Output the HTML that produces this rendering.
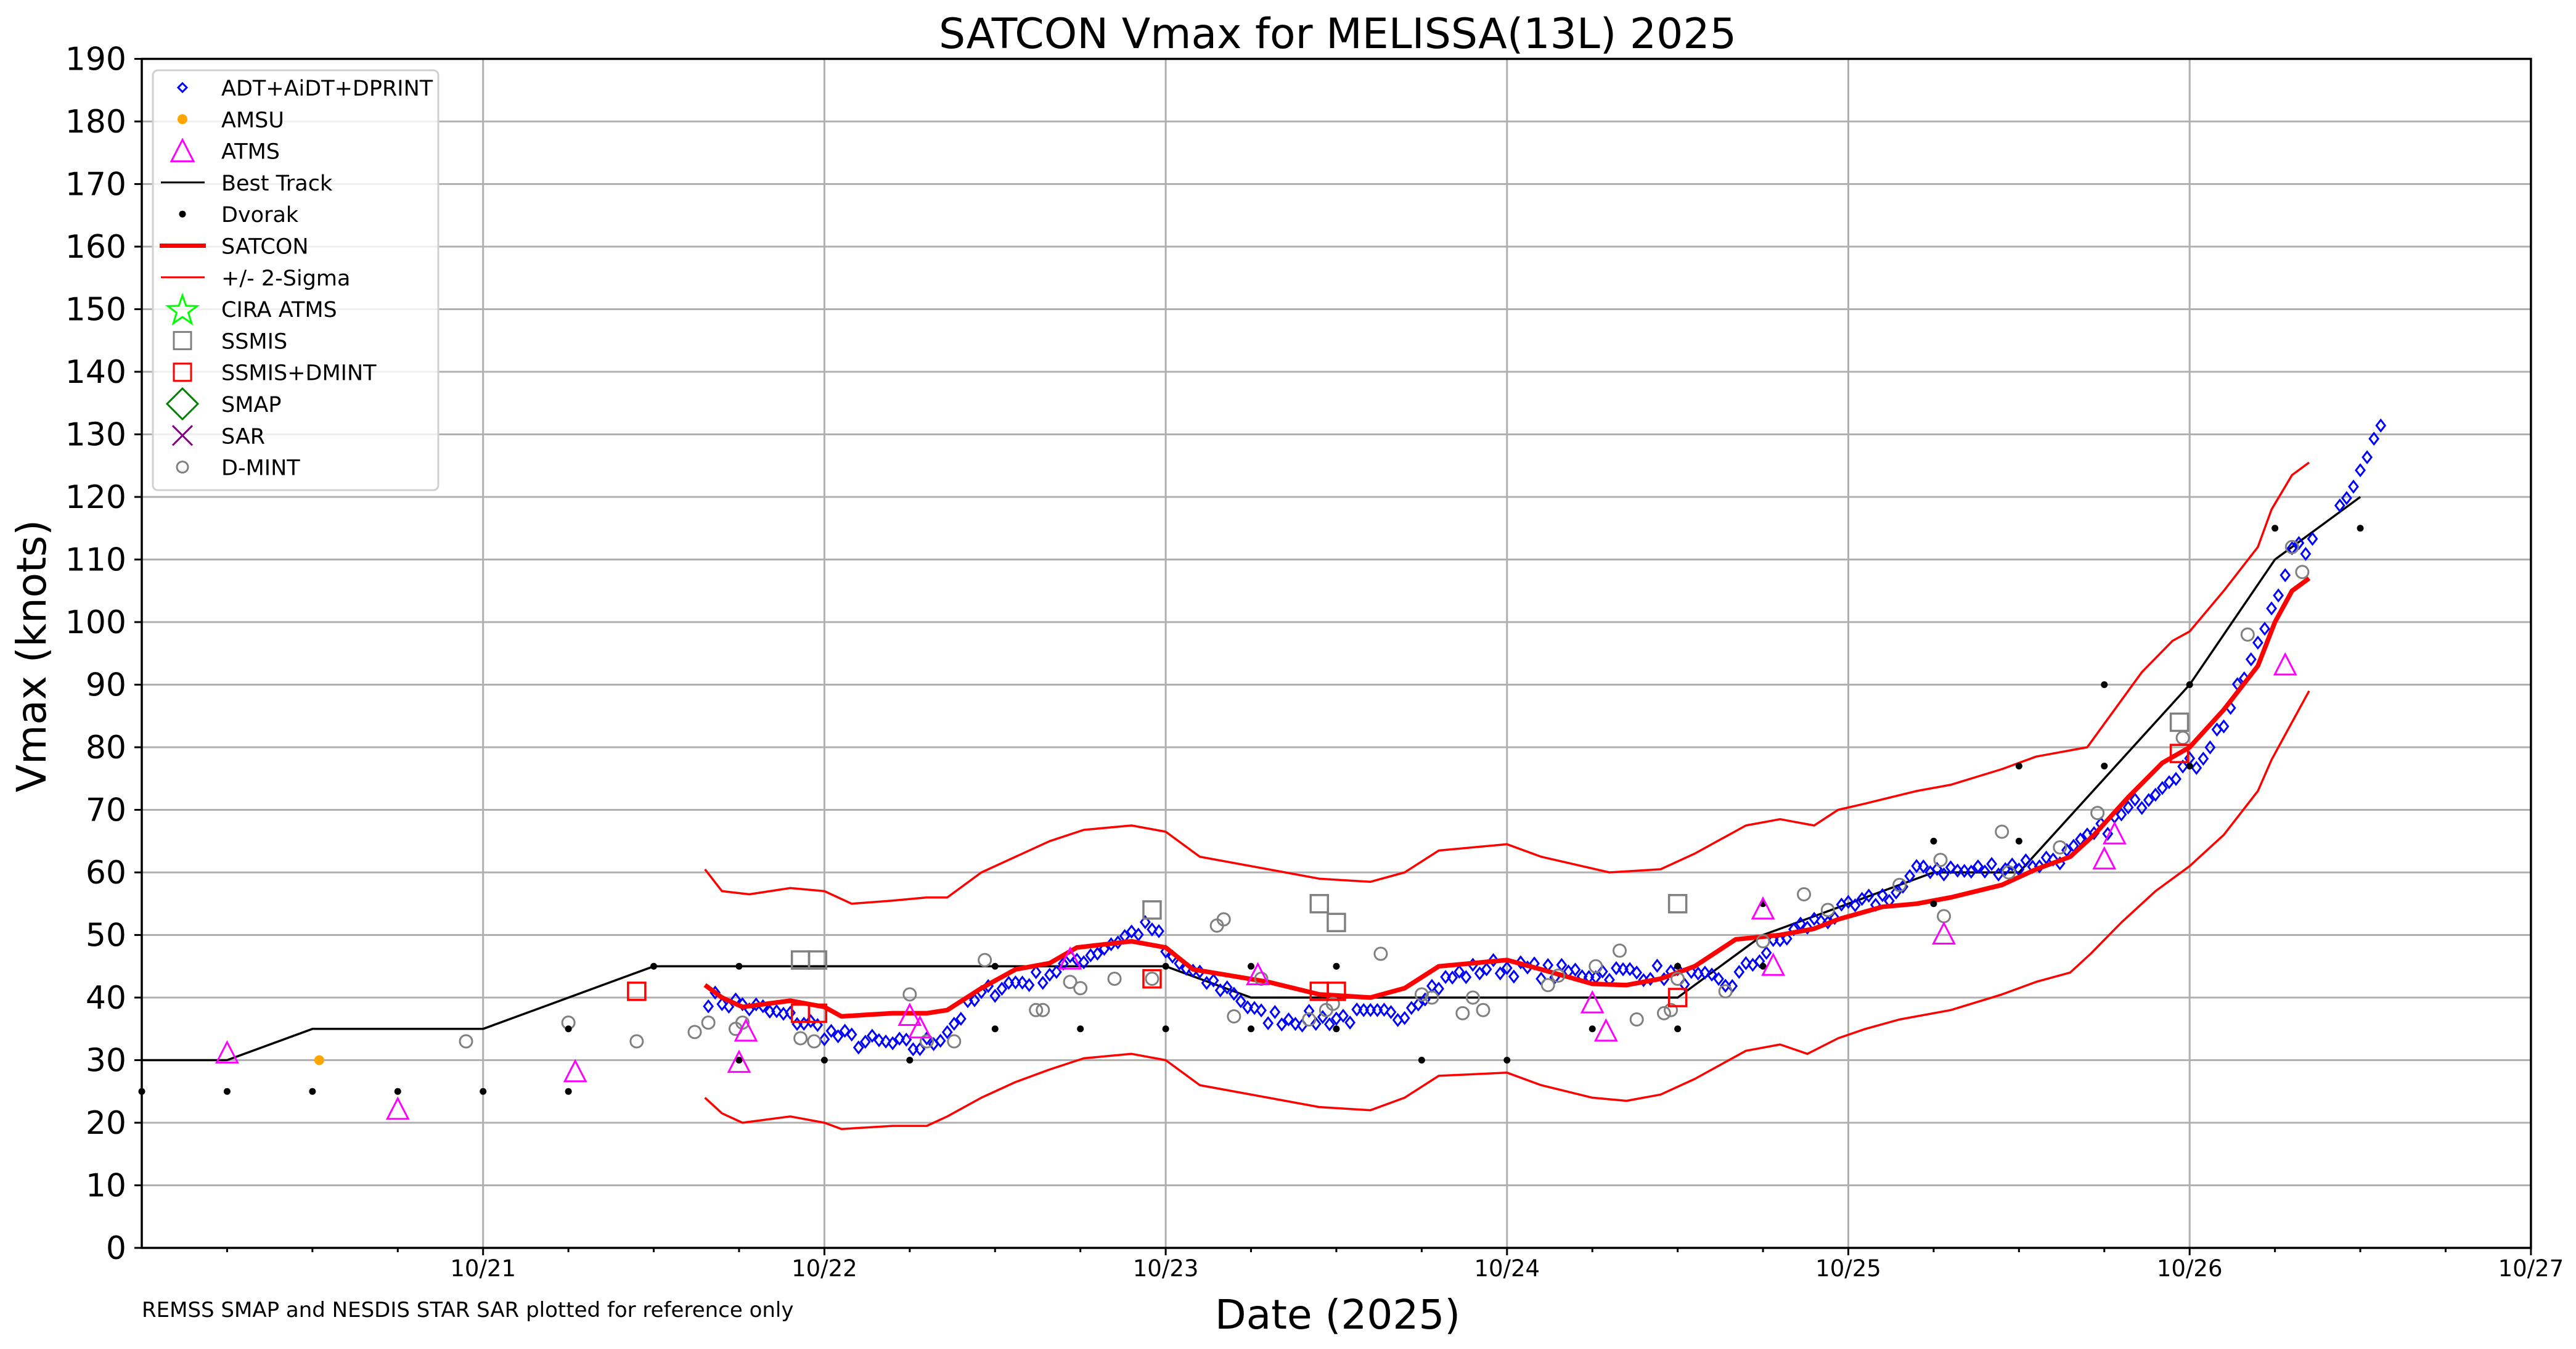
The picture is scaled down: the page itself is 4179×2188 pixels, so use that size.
<!DOCTYPE html>
<html><head><meta charset="utf-8">
<style>html,body{margin:0;padding:0;background:#fff}svg{display:block}text{font-family:"DejaVu Sans","Liberation Sans",sans-serif}</style>
</head><body>
<svg id="s" width="4179" height="2188" viewBox="0 0 4179 2188" xmlns="http://www.w3.org/2000/svg">
<rect width="4179" height="2188" fill="#fff"/>
<g id="grid"></g><g id="data"></g><g id="axes"></g>
<text x="2170" y="78" font-size="68" text-anchor="middle">SATCON Vmax for MELISSA(13L) 2025</text>
<text x="2170" y="2155" font-size="66" text-anchor="middle">Date (2025)</text>
<text transform="translate(74,1064) rotate(-90)" font-size="66" text-anchor="middle">Vmax (knots)</text>
<text x="230" y="2136" font-size="34">REMSS SMAP and NESDIS STAR SAR plotted for reference only</text>
<g id="leg"></g>
</svg>
<script>
var NS="http://www.w3.org/2000/svg";
function X(d){return 230+553.7*(d-20);}
function Y(v){return 2024-10.15*v;}
function el(p,t,a,txt){var e=document.createElementNS(NS,t);for(var k in a)e.setAttribute(k,a[k]);if(txt!==undefined)e.textContent=txt;document.getElementById(p).appendChild(e);return e;}
for(var v=10;v<=180;v+=10)el("grid","line",{x1:230,x2:4106,y1:Y(v),y2:Y(v),stroke:"#b0b0b0","stroke-width":3});
for(var d=21;d<=26;d++)el("grid","line",{x1:X(d),x2:X(d),y1:Y(0),y2:Y(190),stroke:"#b0b0b0","stroke-width":3});
el("axes","rect",{x:230,y:Y(190),width:X(27)-230,height:Y(0)-Y(190),fill:"none",stroke:"#000","stroke-width":3.5});
for(var v=0;v<=190;v+=10){el("axes","line",{x1:218,x2:230,y1:Y(v),y2:Y(v),stroke:"#000","stroke-width":3});
el("axes","text",{x:205,y:Y(v)+18,"font-size":52,"text-anchor":"end"},v);}
for(var i=1;i<=28;i++){var d=20+i*0.25,maj=(i%4==0);el("axes","line",{x1:X(d),x2:X(d),y1:Y(0),y2:Y(0)+(maj?12:7),stroke:"#000","stroke-width":3});
if(maj)el("axes","text",{x:X(d),y:2070,"font-size":37,"text-anchor":"middle"},"10/"+d);}
function path(pts,col,w){var s="";pts.forEach(function(p,i){s+=(i?"L":"M")+X(p[0]).toFixed(1)+","+Y(p[1]).toFixed(1);});el("data","path",{d:s,fill:"none",stroke:col,"stroke-width":w,"stroke-linejoin":"round"});}
function interp(pts,d){for(var i=1;i<pts.length;i++)if(d<=pts[i][0]){var a=pts[i-1],b=pts[i];return a[1]+(b[1]-a[1])*(d-a[0])/(b[0]-a[0]);}return pts[pts.length-1][1];}
var up=[[21.65,60.5],[21.7,57],[21.78,56.5],[21.9,57.5],[22.0,57],[22.08,55],[22.2,55.5],[22.3,56],[22.36,56],[22.46,60],[22.56,62.5],[22.66,65],[22.76,66.8],[22.9,67.5],[23.0,66.5],[23.1,62.5],[23.3,60.5],[23.45,59],[23.6,58.5],[23.7,60],[23.8,63.5],[24.0,64.5],[24.1,62.5],[24.3,60],[24.45,60.5],[24.55,63],[24.7,67.5],[24.8,68.5],[24.9,67.5],[24.97,70],[25.05,71],[25.2,73],[25.3,74],[25.45,76.5],[25.55,78.5],[25.7,80],[25.76,84.5],[25.86,92],[25.95,97],[26.0,98.5],[26.1,105],[26.2,112],[26.24,118],[26.3,123.5],[26.35,125.5]];
var lo=[[21.65,24],[21.7,21.5],[21.76,20],[21.9,21],[22.0,20],[22.05,19],[22.2,19.5],[22.3,19.5],[22.36,21],[22.46,24],[22.56,26.5],[22.66,28.5],[22.76,30.3],[22.9,31],[23.0,30],[23.1,26],[23.3,24],[23.45,22.5],[23.6,22],[23.7,24],[23.8,27.5],[24.0,28],[24.1,26],[24.25,24],[24.35,23.5],[24.45,24.5],[24.55,27],[24.7,31.5],[24.8,32.5],[24.88,31],[24.97,33.5],[25.05,35],[25.15,36.5],[25.3,38],[25.45,40.5],[25.55,42.5],[25.65,44],[25.71,47],[25.8,52],[25.9,57],[26.0,61],[26.1,66],[26.2,73],[26.24,78],[26.3,84],[26.35,89]];
var sat=[[21.65,42],[21.7,40],[21.76,38.5],[21.9,39.5],[22.0,38.5],[22.05,37],[22.2,37.5],[22.3,37.5],[22.36,38],[22.46,41.5],[22.56,44.5],[22.66,45.5],[22.74,48],[22.9,49],[23.0,48],[23.08,44.5],[23.3,42.5],[23.45,40.5],[23.6,40],[23.7,41.5],[23.8,45],[24.0,46],[24.1,44.5],[24.25,42.2],[24.35,42],[24.45,43],[24.55,45],[24.67,49.3],[24.8,50],[24.9,51],[24.97,52.5],[25.1,54.5],[25.2,55],[25.3,56],[25.45,58],[25.55,60.5],[25.65,62.5],[25.72,66],[25.82,72],[25.92,77.5],[26.0,80],[26.1,86],[26.2,93],[26.25,100],[26.3,105],[26.35,107]];
path(up,"#ff0000",3.5);path(lo,"#ff0000",3.5);
path([[20,30],[20.25,30],[20.5,35],[21,35],[21.5,45],[23,45],[23.25,40],[24.5,40],[24.75,50],[25,55],[25.25,60],[25.5,60],[26,90],[26.25,110],[26.5,120]],"#000",3.5);
var adtC=[[21.65,40],[21.75,39],[21.85,37.5],[21.95,36],[22.0,34.5],[22.1,33],[22.2,32.5],[22.27,32],[22.32,33],[22.38,36],[22.45,40],[22.52,42],[22.62,43],[22.7,45],[22.78,47],[22.85,49],[22.93,51],[22.97,51],[23.0,47],[23.1,43],[23.2,41],[23.27,37],[23.45,36.5],[23.55,37],[23.68,37],[23.76,41],[23.85,43.5],[23.95,45],[24.05,44.5],[24.15,44],[24.3,44],[24.45,44],[24.55,43],[24.65,42],[24.75,47],[24.85,51],[24.95,53],[25.05,55],[25.15,57],[25.22,61],[25.35,60],[25.45,61],[25.55,61.5],[25.65,63],[25.75,67],[25.85,71],[25.95,76],[26.02,77.5],[26.1,84],[26.2,96],[26.25,104],[26.3,111],[26.4,113],[26.45,120],[26.5,124],[26.55,132]];
var seed=7;function rnd(){seed=(seed*16807)%2147483647;return seed/2147483647;}
for(var d=21.66;d<=26.56;d+=0.02){if(d>26.36&&d<26.42)continue;var v=interp(adtC,d)+(rnd()-0.5)*2.6;var x=X(d),y=Y(v);
el("data","path",{d:"M"+x+","+(y-9)+"L"+(x+7)+","+y+"L"+x+","+(y+9)+"L"+(x-7)+","+y+"Z",fill:"none",stroke:"#0000ff","stroke-width":3});}
path(sat,"#ff0000",7.5);
[[20.95,33],[21.25,36],[21.45,33],[21.62,34.5],[21.66,36],[21.74,35],[21.76,36],[21.93,33.5],[21.97,33],[22.25,40.5],[22.3,33],[22.38,33],[22.47,46],[22.62,38],[22.64,38],[22.72,42.5],[22.75,41.5],[22.85,43],[22.96,43],[23.15,51.5],[23.17,52.5],[23.2,37],[23.28,43],[23.42,36.5],[23.47,38],[23.49,39],[23.63,47],[23.75,40.5],[23.78,40],[23.87,37.5],[23.9,40],[23.93,38],[24.12,42],[24.15,43.5],[24.26,45],[24.33,47.5],[24.38,36.5],[24.46,37.5],[24.48,38],[24.5,43],[24.64,41],[24.75,49],[24.87,56.5],[24.94,54],[25.15,58],[25.27,62],[25.28,53],[25.45,66.5],[25.47,60],[25.62,64],[25.73,69.5],[25.98,81.5],[26.17,98],[26.3,112],[26.33,108]].forEach(function(p){el("data","circle",{cx:X(p[0]),cy:Y(p[1]),r:10,fill:"none",stroke:"#808080","stroke-width":3});});
function sq(p,c){el("data","rect",{x:X(p[0])-14,y:Y(p[1])-14,width:28,height:28,fill:"none",stroke:c,"stroke-width":3.5});}
[[21.93,46],[21.98,46],[22.96,54],[23.45,55],[23.5,52],[24.5,55],[25.97,84]].forEach(function(p){sq(p,"#808080");});
[[21.45,41],[21.93,37.5],[21.98,37.5],[22.96,43],[23.45,41],[23.5,41],[24.5,40],[25.97,79]].forEach(function(p){sq(p,"#ff0000");});
[[20,25],[20.25,25],[20.5,25],[20.75,25],[21,25],[21.25,25],[21.25,35],[21.5,45],[21.75,45],[21.75,30],[22,30],[22.25,30],[22.5,45],[22.5,35],[22.75,35],[23,35],[23,45],[23.25,45],[23.25,35],[23.5,45],[23.5,35],[23.75,30],[24,30],[24.25,35],[24.5,35],[24.5,45],[24.75,45],[24.75,55],[25.25,55],[25.25,65],[25.5,65],[25.5,77],[25.75,77],[25.75,90],[26,90],[26,77],[26.25,115],[26.5,115]].forEach(function(p){el("data","circle",{cx:X(p[0]),cy:Y(p[1]),r:5.5,fill:"#000"});});
el("data","circle",{cx:X(20.52),cy:Y(30),r:8,fill:"#ffa500"});
[[20.25,31],[20.75,22],[21.27,28],[21.75,29.5],[21.77,34.5],[22.25,37],[22.28,35],[22.72,46],[23.27,43.5],[24.25,39],[24.29,34.5],[24.75,54],[24.78,45],[25.28,50],[25.75,62],[25.78,66],[26.28,93]].forEach(function(p){var x=X(p[0]),y=Y(p[1]);
el("data","path",{d:"M"+x+","+(y-19)+"L"+(x+17)+","+(y+14)+"L"+(x-17)+","+(y+14)+"Z",fill:"none",stroke:"#ff00ff","stroke-width":3});});
var SP=51.3;
el("leg","rect",{x:248,y:114,width:463,height:681,rx:8,fill:"#fff","fill-opacity":0.8,stroke:"#d0d0d0","stroke-width":3});
var labs=["ADT+AiDT+DPRINT","AMSU","ATMS","Best Track","Dvorak","SATCON","+/- 2-Sigma","CIRA ATMS","SSMIS","SSMIS+DMINT","SMAP","SAR","D-MINT"];
labs.forEach(function(t,i){var y=142+i*SP,x=296;el("leg","text",{x:359,y:y+13,"font-size":35},t);
if(i==0)el("leg","path",{d:"M"+x+","+(y-7)+"L"+(x+7)+","+y+"L"+x+","+(y+7)+"L"+(x-7)+","+y+"Z",fill:"none",stroke:"#0000ff","stroke-width":3});
if(i==1)el("leg","circle",{cx:x,cy:y,r:8,fill:"#ffa500"});
if(i==2)el("leg","path",{d:"M"+x+","+(y-18)+"L"+(x+18)+","+(y+17)+"L"+(x-18)+","+(y+17)+"Z",fill:"none",stroke:"#ff00ff","stroke-width":3});
if(i==3)el("leg","line",{x1:261,x2:332,y1:y,y2:y,stroke:"#000","stroke-width":3});
if(i==4)el("leg","circle",{cx:x,cy:y,r:5.5,fill:"#000"});
if(i==5)el("leg","line",{x1:259,x2:334,y1:y,y2:y,stroke:"#ff0000","stroke-width":7});
if(i==6)el("leg","line",{x1:261,x2:332,y1:y,y2:y,stroke:"#ff0000","stroke-width":3});
if(i==7){var s="";for(var k=0;k<10;k++){var r=k%2?10:25,a=-Math.PI/2+k*Math.PI/5;s+=(k?"L":"M")+(x+r*Math.cos(a)).toFixed(1)+","+(y+3+r*Math.sin(a)).toFixed(1);}el("leg","path",{d:s+"Z",fill:"none",stroke:"#00ff00","stroke-width":3});}
if(i==8)el("leg","rect",{x:x-14,y:y-14,width:28,height:28,fill:"none",stroke:"#808080","stroke-width":3});
if(i==9)el("leg","rect",{x:x-14,y:y-14,width:28,height:28,fill:"none",stroke:"#ff0000","stroke-width":3});
if(i==10)el("leg","path",{d:"M"+x+","+(y-25)+"L"+(x+25)+","+y+"L"+x+","+(y+25)+"L"+(x-25)+","+y+"Z",fill:"none",stroke:"#008000","stroke-width":3});
if(i==11){el("leg","line",{x1:x-16,x2:x+16,y1:y-16,y2:y+16,stroke:"#800080","stroke-width":3});el("leg","line",{x1:x-16,x2:x+16,y1:y+16,y2:y-16,stroke:"#800080","stroke-width":3});}
if(i==12)el("leg","circle",{cx:x,cy:y,r:9,fill:"none",stroke:"#808080","stroke-width":3});
});
</script>
</body></html>
